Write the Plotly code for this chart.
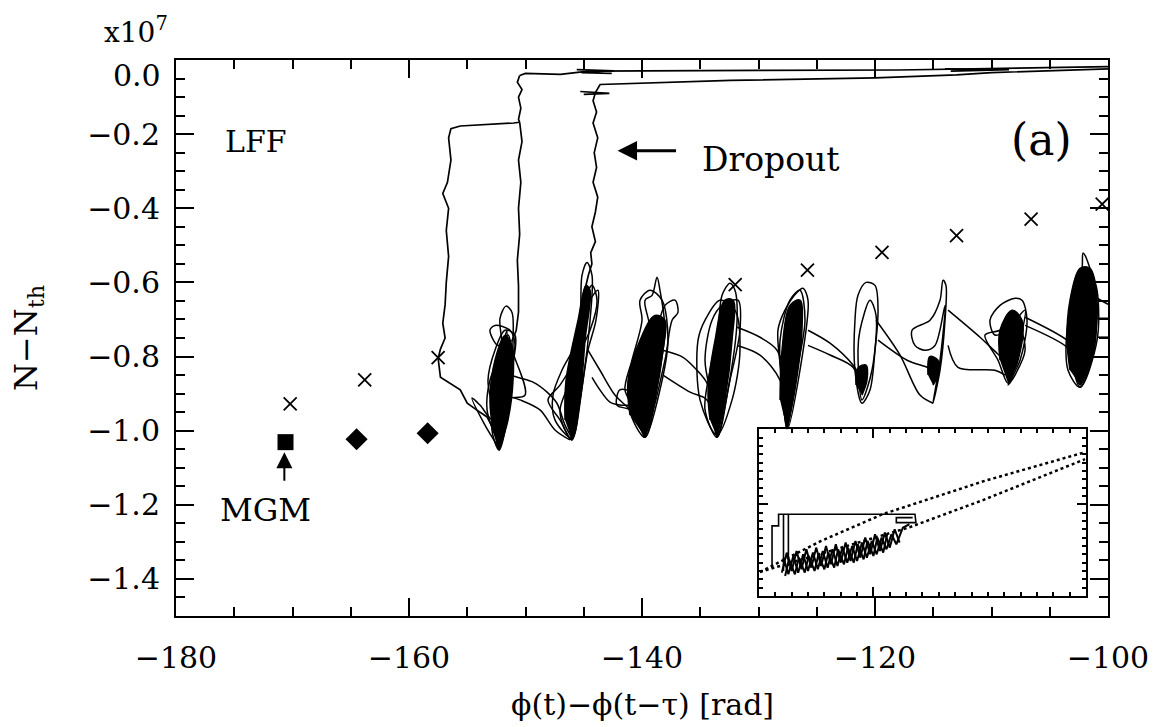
import plotly.graph_objects as go

# ---------------- axis ticks ----------------
x_ticks = [-180, -160, -140, -120, -100]
x_tick_text = ["−180", "−160", "−140", "−120", "−100"]
y_ticks = [0.0, -0.2, -0.4, -0.6, -0.8, -1.0, -1.2, -1.4]
y_tick_text = ["", "−0.2", "−0.4", "−0.6", "−0.8", "−1.0", "−1.2", "−1.4"]

# ---------------- point markers ----------------
ecm_phase = [-170.2, -163.8, -157.5, -132.0, -125.8, -119.4, -113.0, -106.6, -100.5]
ecm_N = [-0.928, -0.863, -0.803, -0.606, -0.567, -0.519, -0.474, -0.429, -0.389]
mode_phase = [-164.5, -158.4]
mode_N = [-1.023, -1.007]
mgm_phase = [-170.6]
mgm_N = [-1.031]

# ---------------- trajectory: dropout / top lines ----------------
top_a = [(-100.0, -0.018), (-105.0, -0.020), (-111.3, -0.023), (-118.0, -0.027), (-130.0, -0.028),
         (-143.0, -0.028), (-144.6, -0.030), (-147.0, -0.039), (-150.0, -0.036), (-150.5, -0.042)]
drop1_upper = [(-150.5, -0.042), (-150.7, -0.06), (-150.3, -0.08), (-150.6, -0.10), (-150.4, -0.13),
               (-150.6, -0.16), (-150.5, -0.168)]
drop1_side = [(-150.5, -0.168), (-151.0, -0.170), (-155.6, -0.178), (-156.4, -0.185), (-156.6, -0.21),
              (-156.4, -0.27), (-156.7, -0.33), (-157.1, -0.36), (-156.6, -0.40), (-156.8, -0.46),
              (-156.6, -0.53), (-156.8, -0.60), (-156.9, -0.66), (-157.1, -0.71), (-156.9, -0.75),
              (-157.3, -0.78), (-157.5, -0.805), (-157.3, -0.856), (-155.6, -0.890), (-155.0, -0.926),
              (-154.2, -0.944), (-153.3, -0.963), (-152.7, -1.00), (-152.3, -1.05)]
drop1_lower = [(-150.5, -0.168), (-150.3, -0.22), (-150.6, -0.27), (-150.4, -0.33), (-150.6, -0.40),
               (-150.5, -0.47), (-150.7, -0.54), (-150.6, -0.61), (-150.6, -0.68), (-150.8, -0.73),
               (-151.2, -0.76)]
top_b = [(-100.0, -0.024), (-105.0, -0.028), (-110.0, -0.034), (-113.0, -0.040), (-120.0, -0.048),
         (-132.4, -0.055), (-139.3, -0.061), (-143.6, -0.066), (-144.0, -0.088)]
drop2 = [(-144.0, -0.088), (-144.2, -0.11), (-143.9, -0.14), (-144.2, -0.17), (-143.8, -0.21),
         (-144.1, -0.25), (-143.9, -0.29), (-144.2, -0.33), (-143.8, -0.37), (-144.0, -0.41),
         (-144.3, -0.45), (-144.0, -0.49), (-144.4, -0.52), (-144.3, -0.55), (-144.6, -0.58),
         (-144.9, -0.62)]
top_blob_1 = [(-145.3, -0.085), (-142.8, -0.090), (-145.0, -0.093)]
top_blob_2 = [(-145.6, -0.026), (-142.4, -0.029), (-145.2, -0.034), (-142.6, -0.036)]
top_blob_3 = [(-114.0, -0.024), (-108.5, -0.026), (-113.5, -0.030)]
right_exits = [[(-100.94, -0.643), (-100.0, -0.659)],
               [(-100.94, -0.697), (-100.0, -0.697)],
               [(-100.94, -0.748), (-100.0, -0.748)]]

# ---------------- trajectory: loops around external-cavity modes ----------------
c1_loops = [
    [(-152.27, -1.052), (-151.33, -0.917), (-151.07, -0.756), (-151.16, -0.681), (-151.67, -0.664),
     (-152.19, -0.697), (-152.02, -0.770), (-152.45, -0.917), (-152.88, -0.998), (-152.27, -1.052)],
    [(-152.27, -1.047), (-153.48, -0.985), (-154.59, -0.912), (-153.91, -0.931), (-152.79, -0.971),
     (-151.76, -0.864), (-150.90, -0.770), (-151.33, -0.729), (-152.62, -0.716), (-153.05, -0.729),
     (-152.36, -0.770), (-151.50, -0.742), (-151.16, -0.783), (-150.04, -0.904), (-151.76, -0.917),
     (-152.27, -1.039)],
    [(-152.45, -1.025), (-153.30, -0.944), (-153.05, -0.864), (-152.19, -0.796), (-151.59, -0.729),
     (-151.85, -0.842), (-152.27, -1.039)],
    [(-152.27, -1.052), (-152.79, -0.944), (-153.22, -0.864), (-152.62, -0.783), (-151.76, -0.729),
     (-150.90, -0.742), (-151.16, -0.837), (-151.76, -0.971), (-152.27, -1.052)],
]
c2_loops = [
    [(-146.01, -1.025), (-145.06, -0.864), (-144.46, -0.702), (-144.29, -0.581), (-144.72, -0.546),
     (-145.15, -0.581), (-145.32, -0.729), (-146.18, -0.864), (-147.04, -0.944), (-146.61, -0.998),
     (-146.01, -1.025)],
    [(-146.01, -1.020), (-147.47, -0.971), (-147.64, -0.904), (-146.87, -0.837), (-145.49, -0.756),
     (-144.46, -0.648), (-143.78, -0.621), (-143.95, -0.702), (-144.64, -0.783), (-145.32, -0.917),
     (-146.01, -1.020)],
    [(-146.01, -1.025), (-147.04, -0.971), (-148.07, -0.917), (-147.04, -0.877), (-145.75, -0.810),
     (-144.46, -0.729), (-143.86, -0.648), (-144.29, -0.608), (-144.89, -0.648), (-145.49, -0.810),
     (-146.01, -1.025)],
    [(-139.74, -0.998), (-141.03, -0.944), (-142.15, -0.931), (-141.9, -0.890), (-140.6, -0.900),
     (-139.74, -0.960)],
]
c3_loops = [
    [(-139.74, -1.018), (-138.63, -0.864), (-138.03, -0.729), (-138.46, -0.621), (-138.71, -0.586),
     (-139.14, -0.635), (-139.74, -0.648), (-139.31, -0.729), (-140.17, -0.864), (-141.03, -0.944),
     (-139.74, -1.018)],
    [(-139.74, -1.012), (-138.03, -0.810), (-137.42, -0.702), (-136.91, -0.681), (-137.17, -0.648),
     (-138.03, -0.662), (-138.89, -0.756), (-140.17, -0.917), (-139.74, -1.012)],
    [(-139.74, -1.018), (-140.60, -0.944), (-141.46, -0.890), (-140.86, -0.810), (-140.00, -0.702),
     (-140.17, -0.648), (-139.31, -0.621), (-138.28, -0.648), (-137.77, -0.756), (-138.46, -0.890),
     (-139.74, -1.018)],
]
c4_loops = [
    [(-133.56, -1.018), (-132.62, -0.890), (-131.84, -0.702), (-132.02, -0.621), (-132.45, -0.602),
     (-133.13, -0.635), (-133.48, -0.729), (-134.16, -0.837), (-134.59, -0.944), (-133.56, -1.018)],
    [(-133.56, -1.012), (-135.02, -0.917), (-135.19, -0.756), (-134.59, -0.702), (-133.31, -0.648),
     (-132.02, -0.675), (-131.59, -0.783), (-132.27, -0.917), (-133.56, -1.012)],
    [(-133.56, -1.018), (-133.99, -0.917), (-134.59, -0.810), (-133.99, -0.702), (-133.13, -0.662),
     (-131.76, -0.648), (-131.59, -0.729), (-132.45, -0.864), (-133.56, -1.018)],
]
c5_loops = [
    [(-127.55, -0.998), (-126.44, -0.837), (-125.75, -0.648), (-126.18, -0.616), (-126.70, -0.627),
     (-127.73, -0.675), (-128.33, -0.729), (-127.98, -0.864), (-127.55, -0.998)],
    [(-127.55, -0.993), (-126.87, -0.864), (-126.01, -0.702), (-126.44, -0.621), (-127.30, -0.648),
     (-128.15, -0.756), (-127.90, -0.917), (-127.55, -0.993)],
]
c6_loops = [
    [(-121.12, -0.926), (-121.72, -0.837), (-121.72, -0.702), (-121.46, -0.635), (-120.77, -0.600),
     (-120.00, -0.608), (-119.74, -0.675), (-120.00, -0.783), (-120.43, -0.890), (-121.12, -0.926)],
    [(-121.12, -0.917), (-121.46, -0.783), (-121.29, -0.729), (-120.43, -0.648), (-119.91, -0.689),
     (-120.26, -0.837), (-121.12, -0.917)],
]
c7_loops = [
    [(-115.02, -0.926), (-114.42, -0.837), (-113.99, -0.702), (-113.91, -0.608), (-114.16, -0.594),
     (-114.42, -0.648), (-115.28, -0.702), (-116.82, -0.729), (-116.57, -0.770), (-115.71, -0.783),
     (-114.85, -0.770), (-113.99, -0.662), (-114.42, -0.810), (-115.02, -0.926)],
]
c8_loops = [
    [(-108.58, -0.877), (-107.55, -0.810), (-106.95, -0.702), (-107.38, -0.648), (-107.98, -0.643),
     (-109.27, -0.662), (-110.13, -0.702), (-109.70, -0.742), (-108.41, -0.729), (-107.55, -0.729),
     (-107.12, -0.783), (-107.98, -0.850), (-108.58, -0.877)],
    [(-108.58, -0.872), (-109.44, -0.810), (-110.56, -0.742), (-109.27, -0.729), (-107.98, -0.702),
     (-107.12, -0.675), (-107.55, -0.756), (-108.58, -0.872)],
]
c9_loops = [
    [(-102.40, -0.883), (-100.94, -0.756), (-100.94, -0.621), (-101.55, -0.562), (-101.97, -0.527),
     (-102.15, -0.521), (-102.23, -0.562), (-102.83, -0.621), (-103.52, -0.729), (-103.43, -0.837),
     (-102.40, -0.883)],
    [(-102.40, -0.877), (-101.30, -0.780), (-101.20, -0.650), (-101.90, -0.600), (-102.60, -0.660),
     (-103.10, -0.780), (-102.40, -0.877)],
    [(-102.40, -0.883), (-103.09, -0.810), (-103.26, -0.702), (-102.57, -0.621), (-101.55, -0.581),
     (-101.03, -0.648), (-101.20, -0.783), (-102.40, -0.883)],
]
# drift arcs between neighbouring modes
arcs = [
    [(-151.33, -0.850), (-150.47, -0.858), (-149.36, -0.869), (-148.15, -0.896), (-147.30, -0.926),
     (-146.61, -0.985), (-146.01, -1.020)],
    [(-151.76, -0.904), (-150.47, -0.917), (-148.76, -0.944), (-147.47, -0.998), (-146.18, -1.025)],
    [(-144.29, -0.856), (-143.61, -0.890), (-142.75, -0.923), (-141.89, -0.931), (-140.17, -0.936),
     (-139.74, -1.012)],
    [(-144.64, -0.783), (-143.61, -0.837), (-142.32, -0.904), (-141.03, -0.944), (-139.74, -0.998)],
    [(-138.20, -0.783), (-136.48, -0.802), (-135.28, -0.837), (-134.42, -0.872), (-133.56, -0.971),
     (-133.56, -1.018)],
    [(-138.20, -0.850), (-135.87, -0.896), (-134.42, -0.917), (-133.56, -1.018)],
    [(-131.84, -0.721), (-129.87, -0.748), (-128.41, -0.783), (-127.55, -0.890), (-127.55, -0.998)],
    [(-131.84, -0.770), (-129.87, -0.796), (-128.15, -0.864), (-127.55, -0.985)],
    [(-125.75, -0.729), (-123.86, -0.764), (-121.89, -0.823), (-121.12, -0.864)],
    [(-125.75, -0.770), (-123.86, -0.796), (-121.89, -0.829), (-121.12, -0.890)],
    [(-119.74, -0.756), (-117.25, -0.810), (-115.54, -0.829), (-115.02, -0.837)],
    [(-119.91, -0.702), (-117.85, -0.796), (-116.14, -0.904), (-115.02, -0.926)],
    [(-113.73, -0.675), (-110.99, -0.748), (-109.53, -0.791), (-108.84, -0.810)],
    [(-113.73, -0.770), (-112.88, -0.829), (-109.70, -0.837), (-108.84, -0.850)],
    [(-107.12, -0.694), (-103.52, -0.756), (-102.83, -0.783)],
    [(-107.12, -0.716), (-103.52, -0.775), (-102.83, -0.810)],
]
# densely wound cores of each mode
cores = [
    [(-152.27, -1.052), (-151.50, -0.971), (-151.07, -0.864), (-151.16, -0.770), (-151.76, -0.743),
     (-152.62, -0.810), (-153.05, -0.917), (-152.79, -0.998)],
    [(-146.01, -1.025), (-145.32, -0.917), (-144.89, -0.756), (-144.46, -0.621), (-144.81, -0.608),
     (-145.49, -0.702), (-146.52, -0.864), (-146.61, -0.971)],
    [(-139.74, -1.018), (-138.89, -0.917), (-138.20, -0.783), (-138.03, -0.702), (-138.89, -0.689),
     (-140.17, -0.756), (-141.20, -0.864), (-141.03, -0.958)],
    [(-133.56, -1.018), (-132.88, -0.917), (-132.27, -0.756), (-132.19, -0.648), (-132.88, -0.648),
     (-133.73, -0.756), (-134.33, -0.890), (-134.16, -0.971)],
    [(-127.55, -0.998), (-126.87, -0.890), (-126.27, -0.729), (-126.44, -0.648), (-127.30, -0.662),
     (-127.98, -0.783), (-128.15, -0.917)],
    [(-121.12, -0.904), (-120.69, -0.864), (-120.77, -0.823), (-121.46, -0.831), (-121.63, -0.877)],
    [(-115.02, -0.877), (-114.60, -0.850), (-114.60, -0.810), (-115.30, -0.800), (-115.45, -0.850)],
    [(-108.58, -0.872), (-107.72, -0.810), (-107.38, -0.702), (-108.24, -0.675), (-109.27, -0.729),
     (-109.27, -0.810)],
    [(-102.40, -0.877), (-101.37, -0.796), (-100.94, -0.648), (-101.55, -0.562), (-102.40, -0.562),
     (-103.26, -0.648), (-103.52, -0.756), (-103.26, -0.837)],
]

# ---------------- inset data (normalised inset units) ----------------
inset_upper_dots = [(0.003, 0.144), (0.19, 0.33), (0.379, 0.491), (0.69, 0.69), (0.997, 0.862)]
inset_lower_dots = [(0.003, 0.144), (0.22, 0.27), (0.462, 0.413), (0.685, 0.575), (0.997, 0.82)]
inset_box = [(0.04, 0.17), (0.04, 0.42), (0.06, 0.42), (0.06, 0.49), (0.477, 0.49), (0.48, 0.44),
             (0.42, 0.44), (0.42, 0.47), (0.47, 0.47)]
inset_vert_1 = [(0.075, 0.49), (0.075, 0.15)]
inset_vert_2 = [(0.09, 0.49), (0.09, 0.18)]
inset_band_x1 = [0.07, 0.085, 0.10, 0.115, 0.13, 0.145, 0.16, 0.175, 0.19, 0.205, 0.22, 0.235, 0.25,
                 0.265, 0.28, 0.295, 0.31, 0.325, 0.34, 0.355, 0.37, 0.385, 0.40, 0.415, 0.43]
inset_band_y1 = [0.14, 0.26, 0.15, 0.27, 0.16, 0.28, 0.17, 0.29, 0.18, 0.30, 0.19, 0.31, 0.20, 0.32,
                 0.21, 0.33, 0.23, 0.35, 0.25, 0.37, 0.27, 0.38, 0.29, 0.40, 0.32]
inset_band_x2 = [0.075, 0.09, 0.105, 0.12, 0.135, 0.15, 0.165, 0.18, 0.195, 0.21, 0.225, 0.24, 0.255,
                 0.27, 0.285, 0.30, 0.315, 0.33, 0.345, 0.36, 0.375, 0.39, 0.405, 0.42, 0.44, 0.46]
inset_band_y2 = [0.23, 0.13, 0.24, 0.14, 0.25, 0.15, 0.26, 0.16, 0.27, 0.17, 0.28, 0.18, 0.29, 0.20,
                 0.30, 0.21, 0.32, 0.23, 0.33, 0.25, 0.35, 0.28, 0.37, 0.31, 0.41, 0.43]
inset_band_x3 = [0.08, 0.092, 0.11, 0.122, 0.14, 0.152, 0.17, 0.182, 0.20, 0.212, 0.23, 0.242, 0.26,
                 0.272, 0.29, 0.302, 0.32, 0.332, 0.35, 0.362, 0.38, 0.392]
inset_band_y3 = [0.12, 0.22, 0.13, 0.23, 0.14, 0.24, 0.15, 0.25, 0.16, 0.26, 0.17, 0.28, 0.19, 0.29,
                 0.20, 0.31, 0.22, 0.33, 0.24, 0.35, 0.26, 0.37]


def join(paths):
    xs, ys = [], []
    for p in paths:
        for (a, b) in p:
            xs.append(a)
            ys.append(b)
        xs.append(None)
        ys.append(None)
    return xs, ys


FONT = "DejaVu Serif"
fig = go.Figure()

# dense cores
cx, cy = join(cores)
fig.add_trace(go.Scatter(x=cx, y=cy, mode="lines", fill="toself", fillcolor="black",
                         line=dict(color="black", width=1.5, shape="spline"), hoverinfo="skip"))

# straight dropout / top lines
lx, ly = join([top_a, drop1_upper, drop1_side, drop1_lower, top_b, drop2,
               top_blob_1, top_blob_2, top_blob_3] + right_exits)
fig.add_trace(go.Scatter(x=lx, y=ly, mode="lines", line=dict(color="black", width=1.7)))

# looping parts
loops = c1_loops + c2_loops + c3_loops + c4_loops + c5_loops + c6_loops + c7_loops + c8_loops + c9_loops + arcs
sx, sy = join(loops)
fig.add_trace(go.Scatter(x=sx, y=sy, mode="lines",
                         line=dict(color="black", width=1.5, shape="spline", smoothing=0.9)))

# markers
fig.add_trace(go.Scatter(x=ecm_phase, y=ecm_N, mode="markers",
                         marker=dict(symbol="x-thin", size=13, line=dict(color="black", width=1.8))))
fig.add_trace(go.Scatter(x=mode_phase, y=mode_N, mode="markers",
                         marker=dict(symbol="diamond", size=17, color="black")))
fig.add_trace(go.Scatter(x=mgm_phase, y=mgm_N, mode="markers",
                         marker=dict(symbol="square", size=16, color="black")))

# inset traces
ux, uy = join([inset_upper_dots, inset_lower_dots])
fig.add_trace(go.Scatter(x=ux, y=uy, mode="lines", xaxis="x2", yaxis="y2",
                         line=dict(color="black", width=2.5, dash="dot")))
bx, by = join([inset_box, inset_vert_1, inset_vert_2])
fig.add_trace(go.Scatter(x=bx, y=by, mode="lines", xaxis="x2", yaxis="y2",
                         line=dict(color="black", width=1.6)))
for bxs, bys in [(inset_band_x1, inset_band_y1), (inset_band_x2, inset_band_y2),
                 (inset_band_x3, inset_band_y3)]:
    fig.add_trace(go.Scatter(x=bxs, y=bys, mode="lines", xaxis="x2", yaxis="y2",
                             line=dict(color="black", width=2)))

axis_common = dict(showline=True, linecolor="black", linewidth=2, mirror="ticks", ticks="inside",
                   tickcolor="black", tickwidth=2, showgrid=False, zeroline=False)

fig.update_layout(
    width=1162, height=727,
    margin=dict(l=176, r=54, t=60, b=111),
    plot_bgcolor="white", paper_bgcolor="white",
    showlegend=False,
    font=dict(family=FONT, color="black"),
    xaxis=dict(range=[-180, -100], tickvals=x_ticks, ticktext=x_tick_text, ticklen=18,
               minor=dict(dtick=5, tick0=-180, ticklen=9, tickwidth=1.5, ticks="inside", tickcolor="black"),
               tickfont=dict(family=FONT, size=30), ticklabelstandoff=14, **axis_common),
    yaxis=dict(range=[-1.5, 0.0], tickvals=y_ticks, ticktext=y_tick_text, ticklen=18,
               minor=dict(dtick=0.05, tick0=0, ticklen=9, tickwidth=1.5, ticks="inside", tickcolor="black"),
               tickfont=dict(family=FONT, size=30), ticklabelstandoff=8, **axis_common),
    xaxis2=dict(domain=[0.6255, 0.9764], range=[0, 1], anchor="y2", tickvals=[0.35],
                showticklabels=False, ticklen=9,
                minor=dict(dtick=0.05, ticklen=4, tickwidth=1.5, ticks="inside", tickcolor="black"),
                **axis_common),
    yaxis2=dict(domain=[0.036, 0.336], range=[0, 1], anchor="x2", tickvals=[0.55],
                showticklabels=False, ticklen=9,
                minor=dict(dtick=0.05, ticklen=4, tickwidth=1.5, ticks="inside", tickcolor="black"),
                **axis_common),
)

ann = [
    dict(text="x10<sup>7</sup>", xref="paper", yref="paper", x=-0.0794, y=1.053,
         xanchor="left", yanchor="middle", showarrow=False, font=dict(size=28)),
    dict(text="0.0", xref="paper", yref="y", x=-0.014, y=-0.043, xanchor="right", yanchor="middle",
         showarrow=False, font=dict(size=30)),
    dict(text="N−N<sub>th</sub>", xref="paper", yref="paper", x=-0.1588, y=0.50, textangle=-90,
         xanchor="center", yanchor="middle", showarrow=False, font=dict(size=32)),
    dict(text="ϕ(t)−ϕ(t−τ) [rad]", xref="paper", yref="paper", x=0.5, y=-0.16,
         xanchor="center", yanchor="middle", showarrow=False, font=dict(size=30)),
    dict(text="LFF", x=-173.1, y=-0.220, showarrow=False, font=dict(size=30)),
    dict(text="(a)", x=-105.75, y=-0.215, showarrow=False, font=dict(size=44)),
    dict(text="Dropout", x=-128.9, y=-0.268, showarrow=False, font=dict(size=33)),
    dict(text="", x=-142.1, y=-0.245, ax=60, ay=0, showarrow=True, arrowhead=2, arrowsize=1.3,
         arrowwidth=3, arrowcolor="black"),
    dict(text="MGM", x=-172.3, y=-1.214, showarrow=False, font=dict(size=32)),
    dict(text="", x=-170.7, y=-1.058, ax=0, ay=30, showarrow=True, arrowhead=2, arrowsize=1.6,
         arrowwidth=2, arrowcolor="black"),
]
fig.update_layout(annotations=ann)

fig.write_html("out.html")
